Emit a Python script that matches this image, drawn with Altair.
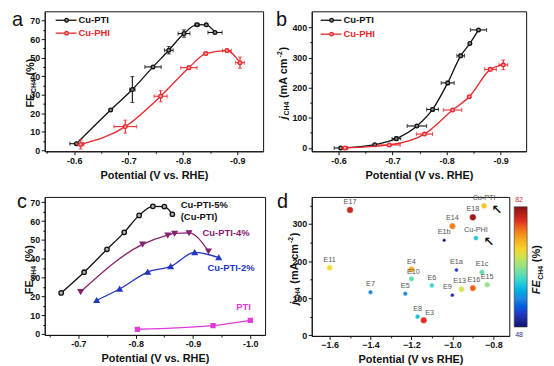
import json
import altair as alt
import pandas as pd

FONT = "Liberation Sans"
BLACK = "#111111"
RED = "#e8262b"
PURPLE = "#86206f"
BLUE = "#2435c0"
MAGENTA = "#e03ad8"

# ---------------- data ----------------
# panels a & b : potentials (V vs RHE)
pti_pot = [-0.604, -0.667, -0.707, -0.745, -0.774, -0.802, -0.826, -0.843, -0.859]
phi_pot = [-0.612, -0.694, -0.759, -0.811, -0.842, -0.881, -0.905]
# panel a : FE_CH4 (%)
a_pti_fe = [3.6, 21.8, 32.8, 45.0, 54.0, 63.0, 67.8, 67.7, 63.6]
a_pti_xerr = [0.012, 0, 0.005, 0.015, 0.008, 0.011, 0.004, 0, 0.013]
a_pti_yerr = [0, 0, 7.0, 0, 2.0, 2.0, 0.8, 0, 0]
a_phi_fe = [3.2, 12.8, 29.2, 44.6, 52.2, 53.8, 47.3]
a_phi_xerr = [0.006, 0.021, 0.012, 0.015, 0.003, 0.008, 0.008]
a_phi_yerr = [2.5, 3.5, 3.0, 1.0, 0.5, 0.8, 3.0]
# panel b : j_CH4 (mA cm-2)
b_pti_j = [0, 11, 31, 73, 128, 216, 306, 347, 392]
b_pti_xerr = [0.012, 0, 0.008, 0.018, 0.011, 0.012, 0.007, 0, 0.015]
b_pti_yerr = [0, 0, 6, 0, 6, 6, 6, 0, 0]
b_phi_j = [0, 10, 46, 126, 170, 261, 276]
b_phi_xerr = [0.005, 0.02, 0.015, 0.017, 0, 0.011, 0.008]
b_phi_yerr = [0, 0, 0, 0, 0, 5, 16]
# panel c : FE_CH4 for different loadings
c5_pot = [-0.670, -0.710, -0.750, -0.780, -0.806, -0.830, -0.850, -0.864]
c5_fe = [21.8, 32.8, 45.0, 54.0, 63.0, 67.8, 67.7, 63.6]
c4_pot = [-0.704, -0.812, -0.856, -0.868, -0.893, -0.927]
c4_fe = [22.4, 47.6, 52.5, 53.4, 53.7, 44.0]
c2_pot = [-0.732, -0.772, -0.821, -0.861, -0.903, -0.945]
c2_fe = [17.9, 23.9, 32.9, 35.9, 43.3, 40.6]
cp_pot = [-0.803, -0.935, -1.0]
cp_fe = [2.5, 4.4, 7.2]
# panel d : literature comparison
d_name = ["E17", "E11", "E7", "E4", "E10", "E5", "E6", "E8", "E3", "E1b",
          "E14", "E1a", "E9", "E13", "E16", "E1c", "E15", "E18", "Cu-PTI", "Cu-PHI"]
d_pot = [-1.50, -1.60, -1.40, -1.20, -1.20, -1.23, -1.10, -1.17, -1.14, -1.04,
         -1.00, -0.98, -1.00, -0.955, -0.90, -0.855, -0.83, -0.90, -0.845, -0.885]
d_j = [338, 182, 116, 177, 152, 112, 134, 50, 40, 256,
       294, 176, 108, 124, 127, 170, 136, 318, 349, 262]
d_fe = [79, 69, 56, 73, 63, 56, 61, 60, 78, 49,
        75, 52, 50, 68, 76, 63, 65, 81, 71, 60]

ONE = pd.DataFrame({"k": [0]})

W = {'F': .611, 'E': .667, 'C': .722, 'H': .722, '4': .556, '2': .556, ' ': .278,
     '(': .333, ')': .333, '%': .889, 'j': .278, 'm': .889, 'A': .722, 'c': .556, '-': .333}


def tw(t, s):
    return sum(W.get(ch, .6) for ch in t) * s


def frame(x, y, xerr=None, yerr=None):
    df = pd.DataFrame({"x": x, "y": y})
    df["i"] = range(len(df))
    if xerr is not None:
        df["xerr"] = xerr
    if yerr is not None:
        df["yerr"] = yerr
    return df


def make_axis(major, minor, fmt, hyphen=True, title=None):
    vals = sorted(major + minor)
    test = "indexof(%s, datum.value) >= 0" % json.dumps(major)
    lab = "format(datum.value, '%s')" % fmt
    if hyphen:
        lab = "replace(%s, '\u2212', '-')" % lab
    return alt.Axis(values=vals, title=title, labelExpr=f"{test} ? {lab} : ''",
                    tickSize={"condition": {"test": test, "value": 3.5}, "value": 2},
                    labelOverlap=False, labelFlush=False)


def encs(xdom, xrev, xaxis, ydom, yaxis):
    def X(f):
        return alt.X(f"{f}:Q", scale=alt.Scale(domain=xdom, reverse=xrev, nice=False, zero=False), axis=xaxis)

    def Y(f):
        return alt.Y(f"{f}:Q", scale=alt.Scale(domain=ydom, nice=False, zero=False), axis=yaxis)
    return X, Y


def series_layers(df, color, X, Y, shape="circle", size=18, fill=None, cap=4):
    layers = [alt.Chart(df).mark_line(color=color, strokeWidth=1.3, interpolate="monotone")
              .encode(x=X("x"), y=Y("y"), order="i:Q")]
    if "xerr" in df:
        e = df[df.xerr > 0].assign(lo=lambda d: d.x - d.xerr, hi=lambda d: d.x + d.xerr)
        layers.append(alt.Chart(e).mark_errorbar(color=color, thickness=1.1, ticks={"size": cap})
                      .encode(x=X("lo"), x2="hi:Q", y=Y("y")))
    if "yerr" in df:
        e = df[df.yerr > 0].assign(lo=lambda d: d.y - d.yerr, hi=lambda d: d.y + d.yerr)
        layers.append(alt.Chart(e).mark_errorbar(color=color, thickness=1.1, ticks={"size": cap})
                      .encode(y=Y("lo"), y2="hi:Q", x=X("x")))
    layers.append(alt.Chart(df).mark_point(shape=shape, size=size, filled=True, fill=fill or color,
                                           stroke=color, strokeWidth=1.3, opacity=1)
                  .encode(x=X("x"), y=Y("y")))
    return layers


def txt(t, x, y, size=9.5, color=BLACK, weight="bold", style="normal", align="left",
        baseline="middle", angle=0, font=FONT):
    return alt.Chart(ONE).mark_text(align=align, baseline=baseline, font=font, fontSize=size,
                                    fontWeight=weight, fontStyle=style, color=color, angle=angle) \
        .encode(x=alt.value(x), y=alt.value(y), text=alt.value(t))


def rot_title(pieces, x, yc, gap=0.6):
    """Vertical (bottom-to-top) title made of pieces with sub/superscripts."""
    total = sum(tw(t, s) + gap for t, s, _, _ in pieces)
    y = yc + total / 2
    out = []
    for t, s, style, shift in pieces:
        lead = len(t) - len(t.lstrip(" "))
        y -= lead * W[' '] * s
        t2 = t.lstrip(" ")
        out.append(txt(t2, x + shift, y, size=s, style=style, angle=270, baseline="alphabetic"))
        y -= tw(t2, s) + gap
    return out


def legend_entry(label, color, fill, x0, y):
    return [
        alt.Chart(ONE).mark_rule(color=color, strokeWidth=1.3)
        .encode(x=alt.value(x0), x2=alt.value(x0 + 21), y=alt.value(y)),
        alt.Chart(ONE).mark_point(shape="circle", size=13, filled=True, fill=fill, stroke=color,
                                  strokeWidth=1.3, opacity=1)
        .encode(x=alt.value(x0 + 11), y=alt.value(y)),
        txt(label, x0 + 23, y, size=9.5, color=color),
    ]


FE_T = [("FE", 11, "normal", 0), ("CH4", 7, "normal", 2.5), (" (%)", 11, "normal", 0)]
J_T = [("j", 11, "italic", 0), ("CH4", 7, "normal", 2.5), (" (mA cm", 11, "normal", 0),
       ("-2", 7, "normal", -4.5), (")", 11, "normal", 0)]
FE_TI = [("FE", 11, "italic", 0), ("CH4", 7, "normal", 2.5), (" (%)", 11, "normal", 0)]

POT = "Potential (V vs. RHE)"
xax_ab = make_axis([-0.6, -0.7, -0.8, -0.9], [-0.55, -0.65, -0.75, -0.85, -0.95], ".1f", title=POT)
GREY_FILL = "#8a8a8a"
PINK_FILL = "#f5a5a5"

# ---------------- panel a ----------------
Xa, Ya = encs([-0.9475, -0.5458], True, xax_ab, [-0.5, 75],
              make_axis([0, 10, 20, 30, 40, 50, 60, 70], [5, 15, 25, 35, 45, 55, 65], "d"))
la = []
la += series_layers(frame(pti_pot, a_pti_fe, a_pti_xerr, a_pti_yerr), BLACK, Xa, Ya, size=14, fill=GREY_FILL)
la += series_layers(frame(phi_pot, a_phi_fe, a_phi_xerr, a_phi_yerr), RED, Xa, Ya, size=14, fill=PINK_FILL)
la += legend_entry("Cu-PTI", BLACK, GREY_FILL, 11, 9)
la += legend_entry("Cu-PHI", RED, PINK_FILL, 11, 22)
la.append(txt("a", -33, 15, size=20, weight="normal", baseline="alphabetic"))
la += rot_title(FE_T, -11, 72)
pa = alt.layer(*la).properties(width=220, height=141)

# ---------------- panel b ----------------
Xb, Yb = encs([-0.9472, -0.5504], True, xax_ab, [-11, 453.7],
              make_axis([0, 100, 200, 300, 400], [50, 150, 250, 350], "d"))
lb = []
lb += series_layers(frame(pti_pot, b_pti_j, b_pti_xerr, b_pti_yerr), BLACK, Xb, Yb, size=14, fill=GREY_FILL)
lb += series_layers(frame(phi_pot, b_phi_j, b_phi_xerr, b_phi_yerr), RED, Xb, Yb, size=14, fill=PINK_FILL)
lb += legend_entry("Cu-PTI", BLACK, GREY_FILL, 9, 9)
lb += legend_entry("Cu-PHI", RED, PINK_FILL, 9, 23)
lb.append(txt("b", -36, 15, size=20, weight="normal", baseline="alphabetic"))
lb += rot_title(J_T, -25, 72)
pb = alt.layer(*lb).properties(width=216, height=141)

# ---------------- panel c ----------------
Xc, Yc = encs([-1.0258, -0.6413], True,
              make_axis([-0.7, -0.8, -0.9, -1.0], [-0.65, -0.75, -0.85, -0.95], ".1f", title=POT),
              [-0.5, 72.8],
              make_axis([0, 10, 20, 30, 40, 50, 60, 70], [5, 15, 25, 35, 45, 55, 65], "d"))
lc = []
lc += series_layers(frame(c5_pot, c5_fe), BLACK, Xc, Yc, size=20, fill="#b5b5b5")
lc += series_layers(frame(c4_pot, c4_fe), PURPLE, Xc, Yc, shape="triangle-down", size=24)
lc += series_layers(frame(c2_pot, c2_fe), BLUE, Xc, Yc, shape="triangle-up", size=24)
lc += series_layers(frame(cp_pot, cp_fe), MAGENTA, Xc, Yc, shape="square", size=16)
lc.append(txt("Cu-PTI-5%", 137, 8))
lc.append(txt("(Cu-PTI)", 137, 20))
lc.append(txt("Cu-PTI-4%", 159, 36, color=PURPLE))
lc.append(txt("Cu-PTI-2%", 164, 72, color=BLUE))
lc.append(txt("PTI", 193, 111, color=MAGENTA))
lc.append(txt("c", -28, 11, size=20, weight="normal", baseline="alphabetic"))
lc += rot_title(FE_T, -11.5, 73)
pc = alt.layer(*lc).properties(width=222, height=139)

# ---------------- panel d ----------------
JET = ["#12126e", "#1f3fd0", "#2f8fe0", "#40d4d8", "#95e08a", "#f2e035", "#f5a020", "#e53222", "#8a1212"]
JET_DOM = [48, 52.25, 56.5, 60.75, 65, 69.25, 73.5, 77.75, 82]
Xd, Yd = encs([-1.687, -0.722], False,
              make_axis([-1.6, -1.4, -1.2, -1.0, -0.8], [-1.7, -1.5, -1.3, -1.1, -0.9], ".1f",
                        hyphen=False, title="Potential (V vs RHE)"),
              [-2, 373], make_axis([0, 100, 200, 300], [50, 150, 250, 350], "d"))
dd = pd.DataFrame({"name": d_name, "x": d_pot, "y": d_j, "fe": d_fe})
# labels that are nudged sideways off the default "centred above" place
NUDGE = {"E3": (6, -7), "E10": (2, -7), "E9": (-5, -8), "E13": (-2, -8), "E16": (1, -8)}
default_lab = " && ".join("datum.name != '%s'" % n for n in NUDGE)
ld = [
    alt.Chart(dd).mark_circle(opacity=1, stroke="white", strokeWidth=0.6, strokeOpacity=0.7).encode(
        x=Xd("x"), y=Yd("y"),
        color=alt.Color("fe:Q", scale=alt.Scale(domain=JET_DOM, range=JET),
                        legend=alt.Legend(orient="none", legendX=473, legendY=197, direction="vertical",
                                          gradientLength=121, gradientThickness=13, title=None,
                                          labelExpr="''", padding=0, offset=0,
                                          gradientStrokeColor="#333", gradientStrokeWidth=0.6)),
        size=alt.Size("fe:Q", scale=alt.Scale(domain=[48, 82], range=[12, 46]), legend=None),
    ),
    alt.Chart(dd).transform_filter(default_lab)
    .mark_text(font=FONT, fontSize=7.3, color="#555555", dy=-8).encode(
        x=Xd("x"), y=Yd("y"), text="name:N"),
]
for n, (ddx, ddy) in NUDGE.items():
    ld.append(alt.Chart(dd).transform_filter("datum.name == '%s'" % n)
              .mark_text(font=FONT, fontSize=7.3, color="#555555", dx=ddx, dy=ddy)
              .encode(x=Xd("x"), y=Yd("y"), text="name:N"))
ld += [
    alt.Chart(dd).transform_filter("datum.name == 'Cu-PTI' || datum.name == 'Cu-PHI'")
    .mark_text(font="DejaVu Sans", fontSize=13, fontWeight="bold", color=BLACK, dx=13, dy=4)
    .encode(x=Xd("x"), y=Yd("y"), text=alt.value("\u2196")),
    txt("82", 205, 3, size=7, weight="normal", color="#c0302a"),
    txt("48", 205, 139, size=7, weight="normal", color="#2a2a80"),
    txt("d", -35, 11, size=20, weight="normal", baseline="alphabetic"),
]
ld += rot_title(J_T, -14, 72)
ld += rot_title(FE_TI, 230, 73)
pd_ = alt.layer(*ld).properties(width=199, height=140)

chart = alt.concat(pa, pb, pc, pd_, columns=2, spacing=alt.RowColnumber(row=46, column=47),
                   bounds="flush").properties(
    padding={"left": 3, "top": 0, "right": 2, "bottom": 2}, background="white"
).configure_view(stroke=BLACK, strokeWidth=1).configure_axis(
    labelFont=FONT, labelFontSize=9, labelFontWeight="bold", labelColor=BLACK, labelPadding=1.5,
    titleFont=FONT, titleFontSize=11, titleFontWeight="bold", titleColor=BLACK, titlePadding=4,
    domainColor=BLACK, tickColor=BLACK, grid=False
)

chart.save("out.html", embed_options={"renderer": "svg", "actions": False})
